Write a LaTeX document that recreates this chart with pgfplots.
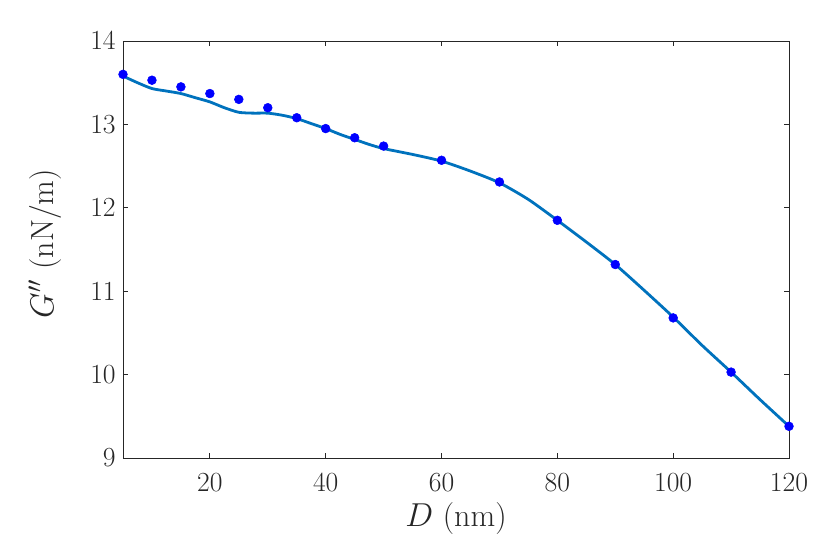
\documentclass[border=0pt]{standalone}
\usepackage{pgfplots}
\pgfplotsset{compat=1.18}
\definecolor{mblue}{rgb}{0,0.447,0.741}
\definecolor{axgray}{rgb}{0.15,0.15,0.15}
\begin{document}
\begin{tikzpicture}
\useasboundingbox (-92.25pt,-61.5pt) rectangle (530.25pt,343.5pt);
\begin{axis}[
  at={(0,0)}, anchor=south west,
  scale only axis,
  width=499.5pt, height=312.75pt,
  xmin=5, xmax=120, ymin=9, ymax=14,
  xtick={20,40,60,80,100,120},
  ytick={9,10,11,12,13,14},
  tick align=inside,
  major tick length=4pt,
  axis line style={axgray, line width=0.6pt},
  tick style={axgray, line width=0.6pt},
  ticklabel style={font=\fontsize{20}{22}\selectfont, text=axgray},
  xticklabel style={yshift=-8.5pt},
  yticklabel style={xshift=-2pt},
  label style={font=\fontsize{24}{26}\selectfont, text=axgray},
  xlabel={$D$ (nm)},
  ylabel={$G''$ (nN/m)},
  xlabel style={at={(axis description cs:0.5,0)}, anchor=base, yshift=-51.5pt},
  ylabel style={at={(axis description cs:-0.1171,0.514)}, anchor=center},
  clip=false,
]
\addplot[mblue, line width=2.1pt, line join=round, smooth, tension=0.4] coordinates {
(5,13.58) (7.5,13.50) (10,13.43) (12.5,13.40) (15,13.37) (17.5,13.32)
(20,13.27) (22.5,13.20) (25,13.145) (27.5,13.135) (30,13.135) (32.5,13.11)
(35,13.07) (37.5,13.01) (40,12.95) (42.5,12.88) (45,12.82) (47.5,12.76)
(50,12.71) (55,12.64) (60,12.56) (65,12.44) (70,12.30) (75,12.10)
(80,11.85) (85,11.59) (90,11.32) (95,11.01) (100,10.69) (105,10.35)
(110,10.03) (115,9.70) (120,9.38)
};
\addplot[only marks, mark=*, mark size=3.3pt, color=blue, fill=blue] coordinates {
(5,13.60) (10,13.53) (15,13.45) (20,13.37) (25,13.30) (30,13.20) (35,13.08)
(40,12.95) (45,12.84) (50,12.74) (60,12.57) (70,12.31) (80,11.85)
(90,11.32) (100,10.68) (110,10.03) (120,9.38)
};
\end{axis}
\end{tikzpicture}
\end{document}
